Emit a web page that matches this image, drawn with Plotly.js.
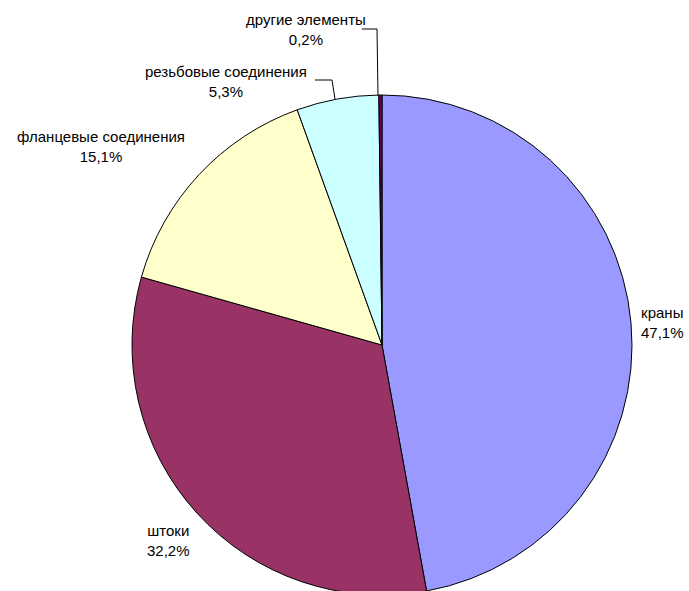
<!DOCTYPE html>
<html><head><meta charset="utf-8">
<script src="https://cdn.plot.ly/plotly-3.0.1.min.js"></script>
<style>html,body{margin:0;padding:0;overflow:hidden;background:#fff;}#chart{width:689px;height:596px;}</style>
</head><body><div id="chart"></div>
<script>
const labels = ['краны', 'штоки', 'фланцевые соединения', 'резьбовые соединения', 'другие элементы'];
const values = [47.1, 32.2, 15.1, 5.3, 0.2];
const valueText = ['47,1%', '32,2%', '15,1%', '5,3%', '0,2%'];
const colors = ['#9999FF', '#993366', '#FFFFCC', '#CCFFFF', '#660066'];

const W = 689, H = 596;
const px = x => x / W, py = y => 1 - y / H;

// label centers (pixels)
const labelPos = [[662, 322], [168, 540], [101, 147], [226, 81], [306, 30]];

const annotations = labels.map((l, i) => ({
  text: l + '<br>' + valueText[i],
  x: px(labelPos[i][0]), y: py(labelPos[i][1]),
  xref: 'paper', yref: 'paper', xanchor: 'center', yanchor: 'middle',
  showarrow: false, font: {family: 'Arial, Liberation Sans, sans-serif', size: 15, color: '#000'}
}));

const leader = pts => ({
  type: 'path', xref: 'paper', yref: 'paper',
  path: pts.map((p, i) => (i ? 'L' : 'M') + px(p[0]) + ',' + py(p[1])).join(' '),
  line: {color: '#000', width: 1}
});

const shapes = [
  leader([[362, 29], [377, 29], [378, 96]]),
  leader([[315, 80], [332, 80], [335, 99]])
];

Plotly.newPlot('chart', [{
  type: 'pie', labels: labels, values: values, sort: false, direction: 'clockwise', rotation: 0,
  marker: {colors: colors, line: {color: '#000', width: 1}},
  textinfo: 'none', hoverinfo: 'none',
  domain: {x: [px(132), px(632)], y: [py(595), py(95)]}
}], {
  width: W, height: H, margin: {l: 0, r: 0, t: 0, b: 0}, showlegend: false,
  paper_bgcolor: '#fff', annotations: annotations, shapes: shapes
}, {staticPlot: true});
</script></body></html>
